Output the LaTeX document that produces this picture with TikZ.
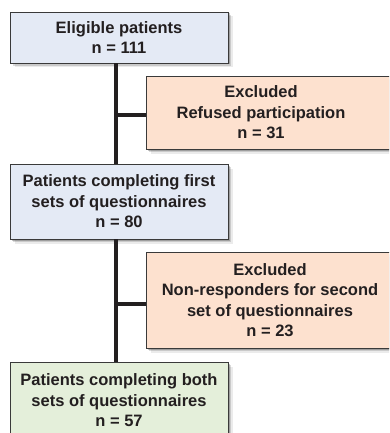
\documentclass[tikz,border=0pt]{standalone}
\usepackage{fontspec}
\setmainfont{Liberation Sans}
\usetikzlibrary{shadows}
\definecolor{bluefill}{HTML}{E4EAF5}
\definecolor{orangefill}{HTML}{FDE1CF}
\definecolor{greenfill}{HTML}{E4EFDA}
\definecolor{boxline}{HTML}{3A3A3A}
\definecolor{textcol}{HTML}{231F20}
\definecolor{trunkcol}{HTML}{231F20}
\begin{document}
\begin{tikzpicture}[x=1pt,y=-1pt,
  softshadow/.style={
    drop shadow={shadow xshift=1.5pt,shadow yshift=-1.5pt,fill=black,opacity=.22},
    drop shadow={shadow xshift=3pt,shadow yshift=-3pt,fill=black,opacity=.14},
    drop shadow={shadow xshift=4.5pt,shadow yshift=-4.5pt,fill=black,opacity=.08}},
  boxtxt/.style={align=center,font=\fontsize{16.5}{20.5}\selectfont\bfseries,text=textcol,inner sep=0pt},
  box/.style={draw=boxline,line width=0.9pt,rectangle,softshadow,boxtxt},
  trunk/.style={draw=trunkcol,line width=4pt}]
\useasboundingbox (0,0) rectangle (389,433);
\clip (0,0) rectangle (389,433);
\node[box,fill=bluefill,minimum width=218pt,minimum height=51pt] (b1) at (119,37.5) {Eligible patients\\n = 111};
\node[box,fill=orangefill,minimum width=250pt,minimum height=73pt] (b2) at (271,112.5) {};
\node[boxtxt] (t2) at (261,112.5) {Excluded\\Refused participation\\n = 31};
\node[box,fill=bluefill,minimum width=218pt,minimum height=75pt] (b3) at (119,201.5) {Patients completing first\\sets of questionnaires\\n = 80};
\node[box,fill=orangefill,minimum width=250pt,minimum height=96pt] (b4) at (271,300) {};
\node[boxtxt] (t4) at (270,300) {Excluded\\Non-responders for second\\set of questionnaires\\n = 23};
\node[box,fill=greenfill,minimum width=218pt,minimum height=76pt,anchor=north] (b5) at (119,362) {Patients completing both\\sets of questionnaires\\n = 57};
\draw[trunk] ([xshift=-3pt]b1.south) -- ([xshift=-3pt]b3.north);
\draw[trunk] ([xshift=-3pt]b3.south) -- ([xshift=-3pt]b5.north);
\draw[trunk] ([yshift=-2.5pt]b2.west) -- ([yshift=-2.5pt,xshift=-2pt]b2.west -| b1.south);
\draw[trunk] ([yshift=-4pt]b4.west) -- ([yshift=-4pt,xshift=-2pt]b4.west -| b1.south);
\end{tikzpicture}
\end{document}
